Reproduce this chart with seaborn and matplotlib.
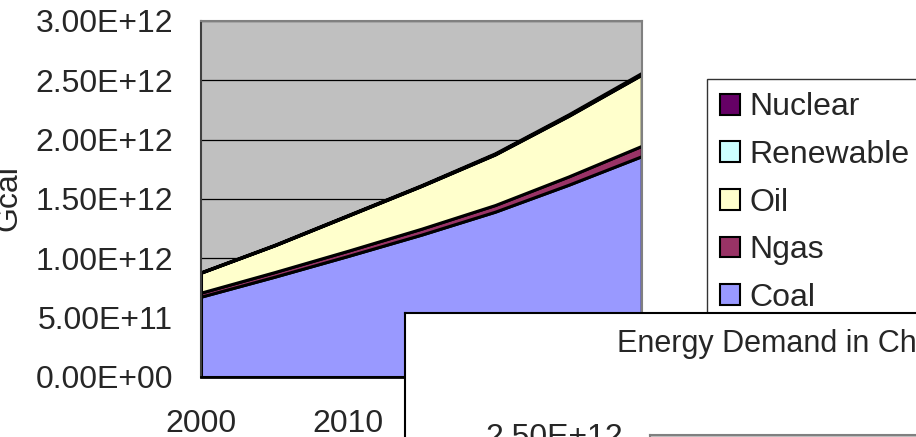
import numpy as np
import pandas as pd
import matplotlib
matplotlib.use("Agg")
import matplotlib.pyplot as plt
from matplotlib.patches import Patch
import seaborn as sns

# values (Gcal)
years = [2000, 2005, 2010, 2015, 2020, 2025, 2030]
coal = [6.77e11, 8.45e11, 1.02e12, 1.20e12, 1.393e12, 1.62e12, 1.862e12]
ngas = [3.4e10, 3.9e10, 4.4e10, 5.0e10, 5.6e10, 7.0e10, 8.7e10]
oil = [1.68e11, 2.25e11, 2.95e11, 3.60e11, 4.26e11, 5.10e11, 6.00e11]
renewable = [2e9, 2e9, 3e9, 3e9, 4e9, 5e9, 5e9]
nuclear = [2e9, 3e9, 3e9, 4e9, 6e9, 8e9, 1.0e10]

series_names = ["Coal", "Ngas", "Oil", "Renewable", "Nuclear"]
series_colors = ["#9999FF", "#993366", "#FFFFCC", "#CCFFFF", "#660066"]
y_ticks = [0, 5e11, 1e12, 1.5e12, 2e12, 2.5e12, 3e12]
x_ticks = [2000, 2010, 2020, 2030]
y_label = "Gcal"
title2 = "Energy Demand in China"

sns.set_style("white")
plt.rcParams["font.family"] = ["Liberation Sans", "DejaVu Sans"]
FS = 23

df = pd.DataFrame({"year": years, "Coal": coal, "Ngas": ngas, "Oil": oil,
                   "Renewable": renewable, "Nuclear": nuclear})
total = df[series_names].sum(axis=1)

W, H = 916, 437
fig = plt.figure(figsize=(W / 100, H / 100), dpi=100)
fig.patch.set_facecolor("white")

ax = fig.add_axes([201 / W, 60 / H, 441 / W, 356 / H])
ax.set_facecolor("#C0C0C0")
for yv in y_ticks:
    ax.axhline(yv, color="black", lw=0.9, zorder=0.5)

ax.stackplot(df["year"], *[df[n] for n in series_names], colors=series_colors,
             edgecolor="black", linewidth=2.2, zorder=2)
ax.vlines(years[-1], 0, total.iloc[-1], color="black", lw=2.5, zorder=2.5)
ax.set_xlim(years[0], years[-1])
ax.set_ylim(0, 3e12)
ax.set_yticks(y_ticks)
ax.set_yticklabels([f"{v:.2E}" for v in y_ticks], fontsize=FS)
ax.set_xticks(x_ticks)
ax.set_xticklabels([str(x) for x in x_ticks], fontsize=FS)
ax.tick_params(axis="both", direction="inout", length=14, width=1, color="#404040")
ax.tick_params(axis="y", pad=13)
ax.tick_params(axis="x", pad=16)
for s in ["top", "right"]:
    ax.spines[s].set_color("#808080")
    ax.spines[s].set_linewidth(1.5)
ax.spines["left"].set_color("#404040")
ax.spines["bottom"].set_color("black")
ax.spines["left"].set_linewidth(1.5)
ax.spines["bottom"].set_linewidth(2)
for s in ax.spines.values():
    s.set_zorder(3)

fig.text(-7 / W, 1 - 198 / H, y_label, rotation=90, fontsize=FS, va="center", ha="left")

handles = [Patch(facecolor=c, edgecolor="black", linewidth=1.5, label=n)
           for n, c in zip(series_names, series_colors)][::-1]
leg = ax.legend(handles=handles, loc="upper left", bbox_to_anchor=(707 / W, 1 - 79 / H),
                bbox_transform=fig.transFigure, fontsize=FS, frameon=True, fancybox=False,
                edgecolor="black", handlelength=0.62, handleheight=0.62, handletextpad=0.3,
                labelspacing=0.55, borderpad=0.42, borderaxespad=0)
leg.get_frame().set_linewidth(1)

# second chart window lying on top of the first one
win = fig.add_axes([405 / W, -0.5, 0.6, (437 - 313) / H + 0.5])
win.set_facecolor("white")
win.set_xticks([])
win.set_yticks([])
for s in win.spines.values():
    s.set_color("black")
    s.set_linewidth(1.5)
fig.text(617 / W, 1 - 344 / H, title2, fontsize=22, va="center", ha="left")

ax2 = fig.add_axes([650 / W, -1, 0.5, 2 / H + 1])
ax2.set_facecolor("#C0C0C0")
ax2.set_ylim(0, 2.5e12)
ax2.set_yticks([2.5e12])
ax2.set_yticklabels(["2.50E+12"], fontsize=FS)
ax2.set_xticks([])
ax2.tick_params(axis="y", direction="inout", length=14, color="#404040", pad=12)
for s in ax2.spines.values():
    s.set_color("#808080")
    s.set_linewidth(1.5)

fig.savefig("out.png", dpi=100)
